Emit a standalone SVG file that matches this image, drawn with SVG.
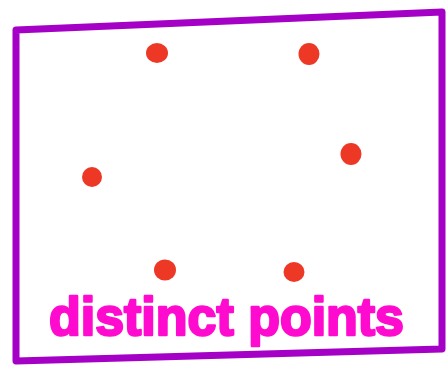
<svg xmlns="http://www.w3.org/2000/svg" width="447" height="366" viewBox="0 0 447 366">
<style>
.frame{fill:none;stroke:#A400C6;stroke-width:7;stroke-linejoin:round;stroke-linecap:round}
.dot{fill:#EE3826}
.lbl{font-family:"Liberation Sans","DejaVu Sans",sans-serif;font-weight:bold;font-size:54px;fill:#FF0ACF;stroke:#FF0ACF;stroke-width:2.5;stroke-linejoin:round}
</style>
<rect width="447" height="366" fill="#ffffff"/>
<g id="frame"><path class="frame" d="M16,30 L442,12 L442,349 L16,361 Z"/></g>
<g id="points">
<ellipse class="dot" cx="157" cy="53" rx="11" ry="10"/>
<ellipse class="dot" cx="309" cy="54" rx="10.5" ry="11"/>
<ellipse class="dot" cx="92" cy="177" rx="10" ry="10"/>
<ellipse class="dot" cx="351" cy="154" rx="10.5" ry="11"/>
<ellipse class="dot" cx="165" cy="270" rx="11" ry="10.5"/>
<ellipse class="dot" cx="294" cy="272" rx="10.5" ry="10"/>
</g>
<g id="label"><text class="lbl" x="49" y="335" textLength="355" lengthAdjust="spacingAndGlyphs">distinct points</text></g>
</svg>
